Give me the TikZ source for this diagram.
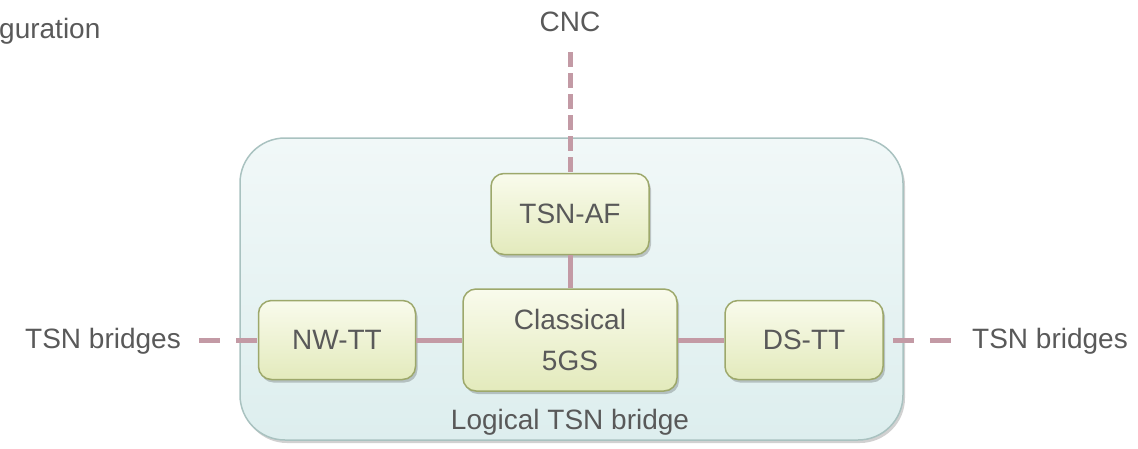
\documentclass[tikz,border=0pt]{standalone}
\usepackage{fontspec}
\setmainfont{Liberation Sans}
\usetikzlibrary{shadows}
\definecolor{txt}{HTML}{595959}
\definecolor{link}{HTML}{C39AA5}
\definecolor{boxline}{HTML}{A9C2C0}
\definecolor{boxtop}{HTML}{F1F8F8}
\definecolor{boxbot}{HTML}{DDEEEE}
\definecolor{ndline}{HTML}{9DA86B}
\definecolor{ndtop}{HTML}{F9FBEC}
\definecolor{ndbot}{HTML}{E3EABC}
\tikzset{
  bridgebox/.style={draw=boxline, line width=1.5pt, rounded corners=45pt,
    top color=boxtop, bottom color=boxbot, inner sep=0pt,
    drop shadow={shadow xshift=2pt, shadow yshift=-3pt, opacity=0.18, fill=black}},
  func/.style={draw=ndline, line width=1.5pt, rounded corners=13pt,
    top color=ndtop, bottom color=ndbot, inner sep=0pt, align=center,
    drop shadow={shadow xshift=2pt, shadow yshift=-3pt, opacity=0.2, fill=black}},
  lbl/.style={inner sep=0pt, text=txt},
  solidlink/.style={draw=link, line width=5pt},
  dashlinkh/.style={draw=link, line width=5pt, dash pattern=on 21pt off 16pt},
  dashlinkv/.style={draw=link, line width=5pt, dash pattern=on 15pt off 6pt},
}
\begin{document}
\begin{tikzpicture}[x=1pt, y=-1pt, font=\fontsize{28}{34}\selectfont, text=txt]
\useasboundingbox (0,0) rectangle (1138,448);
\node[bridgebox, minimum width=663pt, minimum height=302pt] (bridge) at (571.5,289) {};
\node[lbl] (logical) at (570,422) {Logical TSN bridge};
\node[func, minimum width=158pt, minimum height=81pt] (tsnaf) at (570,214) {TSN-AF};
\node[func, minimum width=214pt, minimum height=102pt, font=\fontsize{28}{41}\selectfont] (gs) at (570,340) {Classical\\5GS};
\node[func, minimum width=157pt, minimum height=79pt] (nwtt) at (337,340) {NW-TT};
\node[func, minimum width=158pt, minimum height=79pt] (dstt) at (804,340) {DS-TT};
\node[lbl] (cnc) at (570,22) {CNC};
\node[lbl] (tsnl) at (103,341) {TSN bridges};
\node[lbl] (tsnr) at (1050,341) {TSN bridges};
\node[lbl, anchor=west] (config) at (-1,31) {guration};
\draw[solidlink] (tsnaf.south) -- (gs.north);
\draw[solidlink] (nwtt.east) -- (nwtt.east -| gs.west);
\draw[solidlink] (dstt.west -| gs.east) -- (dstt.west);
\draw[dashlinkv] ([yshift=-20pt]cnc.south) -- (tsnaf.north);
\draw[dashlinkh] ([xshift=18pt]tsnl.east |- nwtt.west) -- (nwtt.west);
\draw[dashlinkh] ([xshift=9pt]dstt.east) -- ([xshift=-20pt]tsnr.west |- dstt.east);
\end{tikzpicture}
\end{document}
